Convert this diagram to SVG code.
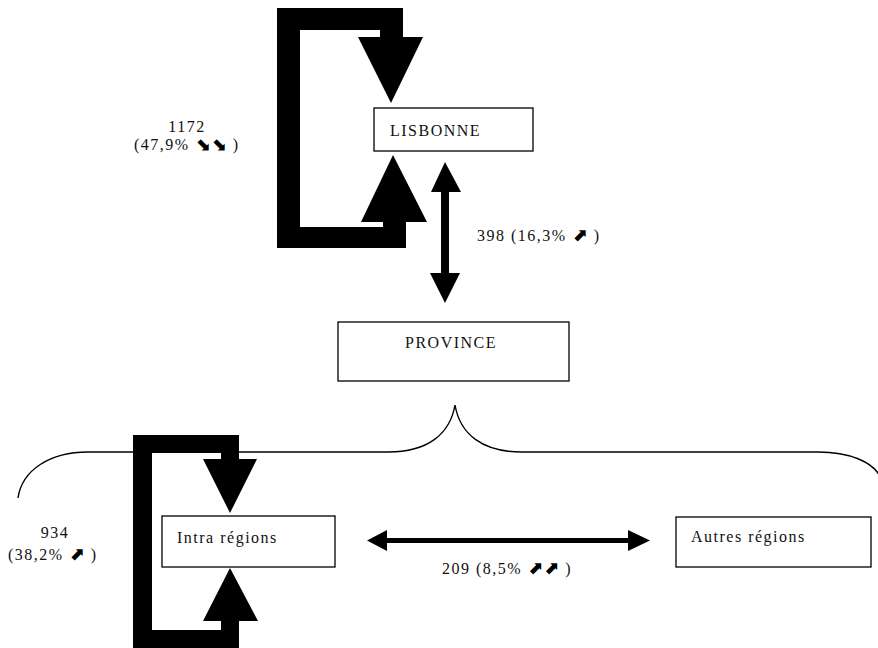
<svg xmlns="http://www.w3.org/2000/svg" width="878" height="648" viewBox="0 0 878 648">
<style>
.box{fill:#fff;stroke:#000;stroke-width:1.3}
.t{font-family:"Liberation Serif","Times New Roman",serif;font-size:16px;letter-spacing:1.5px;fill:#111}
.a{font-family:"DejaVu Sans",sans-serif;font-size:18px;font-weight:bold;letter-spacing:1px;fill:#000}
.c{fill:#000}
.brace{fill:none;stroke:#000;stroke-width:1.4}
</style>
<rect width="878" height="648" fill="#fff"/>
<g id="connectors">
<path class="c" d="M277,8 H403 V37 H423 L391,103 L358,37 H380 V30 H300 V227 H383 V222 H361 L393,155 L427,222 H406 V248 H277 Z"/>
<path class="c" d="M445,162 L461,192 H449 V273 H460 L445,303 L430,273 H441 V192 H431 Z"/>
<path class="c" d="M133,435 H239 V459 H257 L230,513 L203,459 H221 V453 H152 V630 H221 V621 H203 L230,568 L258,621 H239 V648 H133 Z"/>
<path class="c" d="M367,540.5 L387,530 V538 H628 V530 L650,540.5 L628,551 V543 H387 V551 Z"/>
<path class="brace" d="M18,498 C22,470 50,452 88,452 H388 C428,452 450,434 455,405 C460,434 482,452 522,452 H818 C850,452 872,462 880,476"/>
</g>
<g id="lisbonne">
<rect class="box" x="374" y="108" width="159" height="43"/>
<text class="t" x="390" y="136">LISBONNE</text>
</g>
<g id="province">
<rect class="box" x="338" y="322" width="231" height="59"/>
<text class="t" x="405" y="348">PROVINCE</text>
</g>
<g id="intra">
<rect class="box" x="162" y="516" width="173" height="51"/>
<text class="t" x="177" y="543">Intra régions</text>
</g>
<g id="autres">
<rect class="box" x="676" y="517" width="195" height="50"/>
<text class="t" x="691" y="542">Autres régions</text>
</g>
<g id="labels">
<text class="t" x="187" y="132" text-anchor="middle">1172</text>
<text class="t" x="134" y="150">(47,9% <tspan class="a">⬊⬊</tspan> )</text>
<text class="t" x="477" y="241">398 (16,3% <tspan class="a">⬈</tspan> )</text>
<text class="t" x="55" y="538" text-anchor="middle">934</text>
<text class="t" x="8" y="560">(38,2% <tspan class="a">⬈</tspan> )</text>
<text class="t" x="442" y="574">209 (8,5% <tspan class="a">⬈⬈</tspan> )</text>
</g>
</svg>
